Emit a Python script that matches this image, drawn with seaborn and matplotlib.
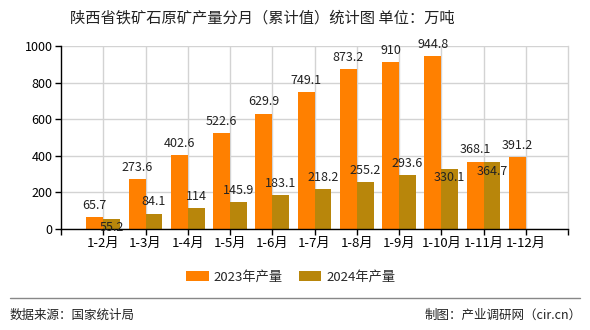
import numpy as np
import pandas as pd
import matplotlib
matplotlib.use("Agg")
import matplotlib.pyplot as plt
import seaborn as sns
from matplotlib.patches import Patch
from matplotlib.lines import Line2D

categories = ["1-2月", "1-3月", "1-4月", "1-5月", "1-6月", "1-7月", "1-8月",
              "1-9月", "1-10月", "1-11月", "1-12月"]
values_2023 = [65.7, 273.6, 402.6, 522.6, 629.9, 749.1, 873.2, 910, 944.8, 368.1, 391.2]
values_2024 = [55.2, 84.1, 114, 145.9, 183.1, 218.2, 255.2, 293.6, 330.1, 364.7, np.nan]
series_names = ["2023年产量", "2024年产量"]
y_ticks = [0, 200, 400, 600, 800, 1000]
title = "陕西省铁矿石原矿产量分月（累计值）统计图 单位：万吨"
source_text = "数据来源：国家统计局"
credit_text = "制图：产业调研网（cir.cn）"

# style: which 2024 labels sit inside the bar top (to avoid overlap)
below_2024 = {0, 8, 9}

colors = ["#FF8000", "#B8860B"]

df = pd.DataFrame({
    "cat": categories * 2,
    "val": values_2023 + values_2024,
    "series": [series_names[0]] * len(categories) + [series_names[1]] * len(categories),
})

sns.set_theme(style="white")
plt.rcParams["font.family"] = ["Noto Sans CJK SC", "DejaVu Sans"]

fig = plt.figure(figsize=(5.9, 3.3), dpi=100)
ax = fig.add_axes([61 / 590, 1 - 229 / 330, (568 - 61) / 590, (229 - 46) / 330])

sns.barplot(data=df, x="cat", y="val", hue="series", order=categories,
            hue_order=series_names, palette=colors, width=0.8, gap=0, ax=ax,
            saturation=1, legend=False, errorbar=None, linewidth=0, edgecolor="none")

ax.set_xlim(-1, len(categories))
ax.set_ylim(0, 1000)
ax.set_yticks(y_ticks)
ax.set_yticklabels([str(v) for v in y_ticks], fontsize=9, color="black")
ax.set_xticks(range(len(categories)))
ax.set_xticklabels(categories, fontsize=9.5, color="black")
ax.set_xticks([-1, len(categories)], minor=True)
ax.tick_params(axis="both", which="both", direction="out", length=4, width=1,
               color="black", bottom=True, left=True, pad=2)
ax.set_xlabel("")
ax.set_ylabel("")
ax.grid(True, which="major", color="#d3d3d3", linewidth=1)
ax.set_axisbelow(True)
for s in ["left", "bottom"]:
    ax.spines[s].set_color("black")
    ax.spines[s].set_linewidth(1)
ax.spines["top"].set_visible(False)
ax.spines["right"].set_color("#d3d3d3")
ax.spines["right"].set_linewidth(1)

# data labels
for i, v in enumerate(values_2023):
    ax.annotate(f"{v:g}", (i - 0.2, v), xytext=(0, 8.5), textcoords="offset points",
                ha="center", va="center", fontsize=9, color="#222222")
for i, v in enumerate(values_2024):
    if np.isnan(v):
        continue
    dy = -6.5 if i in below_2024 else 8.5
    ax.annotate(f"{v:g}", (i + 0.2, v), xytext=(0, dy), textcoords="offset points",
                ha="center", va="center", fontsize=9, color="#222222")

fig.text(262 / 590, 1 - 18 / 330, title, ha="center", va="center", fontsize=11, color="#222222")

handles = [Patch(facecolor=c, edgecolor="none") for c in colors]
fig.legend(handles, series_names, loc="center", bbox_to_anchor=(291 / 590, 1 - 277 / 330),
           ncol=2, frameon=False, fontsize=9.5, handlelength=1.7, handleheight=0.75,
           handletextpad=0.4, columnspacing=1.2)

fig.add_artist(Line2D([10 / 590, 580 / 590], [1 - 298 / 330] * 2, color="#888888",
                      linewidth=1, transform=fig.transFigure))
fig.text(10 / 590, 1 - 315 / 330, source_text, ha="left", va="center", fontsize=9, color="#222222")
fig.text(582 / 590, 1 - 315 / 330, credit_text, ha="right", va="center", fontsize=9, color="#222222")

fig.savefig("out.png", dpi=100)
